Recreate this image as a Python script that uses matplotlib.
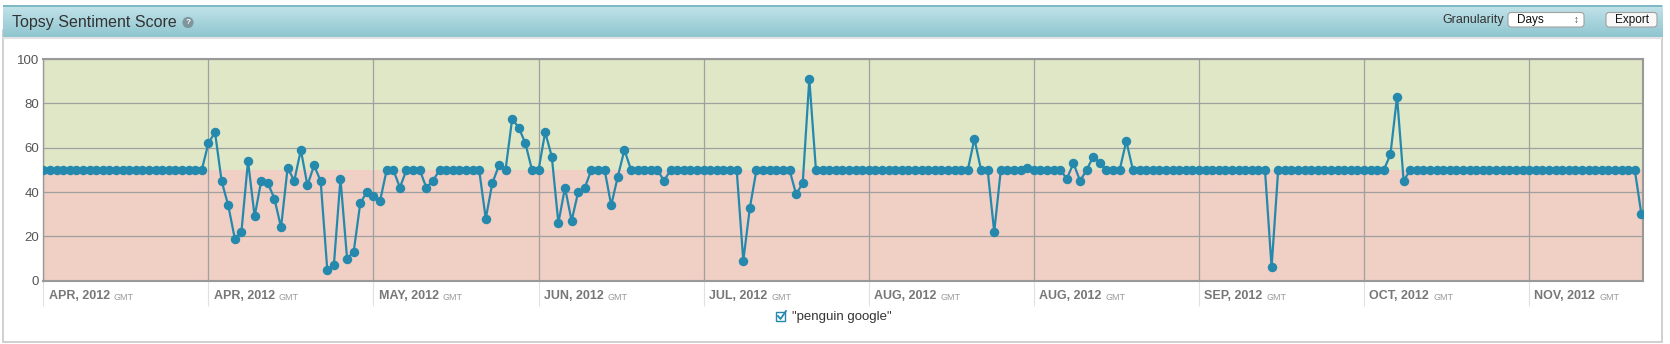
import numpy as np
import matplotlib
matplotlib.use('Agg')
import matplotlib.pyplot as plt
from matplotlib.patches import Rectangle, FancyBboxPatch
from matplotlib.transforms import Affine2D

# datos: puntaje diario (243 dias)
puntaje = [
    50, 50, 50, 50, 50, 50, 50, 50, 50, 50, 50, 50, 50, 50, 50, 50, 50, 50, 50, 50, 50, 50, 50, 50, 50,
    62, 67, 45, 34, 19, 22, 54, 29, 45, 44, 37, 24, 51, 45, 59, 43, 52, 45, 5, 7, 46, 10, 13, 35, 40,
    38, 36, 50, 50, 42, 50, 50, 50, 42, 45, 50, 50, 50, 50, 50, 50, 50, 28, 44, 52, 50, 73, 69, 62, 50,
    50, 67, 56, 26, 42, 27, 40, 42, 50, 50, 50, 34, 47, 59, 50, 50, 50, 50, 50, 45, 50, 50, 50, 50, 50,
    50, 50, 50, 50, 50, 50, 9, 33, 50, 50, 50, 50, 50, 50, 39, 44, 91, 50, 50, 50, 50, 50, 50, 50, 50,
    50, 50, 50, 50, 50, 50, 50, 50, 50, 50, 50, 50, 50, 50, 50, 50, 64, 50, 50, 22, 50, 50, 50, 50, 51,
    50, 50, 50, 50, 50, 46, 53, 45, 50, 56, 53, 50, 50, 50, 63, 50, 50, 50, 50, 50, 50, 50, 50, 50, 50,
    50, 50, 50, 50, 50, 50, 50, 50, 50, 50, 50, 6, 50, 50, 50, 50, 50, 50, 50, 50, 50, 50, 50, 50, 50,
    50, 50, 50, 50, 57, 83, 45, 50, 50, 50, 50, 50, 50, 50, 50, 50, 50, 50, 50, 50, 50, 50, 50, 50, 50,
    50, 50, 50, 50, 50, 50, 50, 50, 50, 50, 50, 50, 50, 50, 50, 50, 50, 30,
]
dias = np.arange(len(puntaje))

# etiquetas del eje x (una cada 25 dias)
pos_ticks = [0, 25, 50, 75, 100, 125, 150, 175, 200, 225]
etiquetas = ['APR, 2012', 'APR, 2012', 'MAY, 2012', 'JUN, 2012', 'JUL, 2012',
             'AUG, 2012', 'AUG, 2012', 'SEP, 2012', 'OCT, 2012', 'NOV, 2012']
y_ticks = [0, 20, 40, 60, 80, 100]

titulo = 'Topsy Sentiment Score'
serie = '"penguin google"'

plt.rcParams['font.family'] = ['Liberation Sans', 'DejaVu Sans']

W, H = 1670, 344
fig = plt.figure(figsize=(W / 100, H / 100), dpi=100)
# transformacion en pixeles con origen arriba a la izquierda
T = Affine2D().scale(1 / W, -1 / H).translate(0, 1) + fig.transFigure

# panel blanco
fig.patches.append(Rectangle((3, 30), 1659, 312, transform=T, fc='white',
                             ec='#c8c8c8', lw=1.2, zorder=-5))

# barra de titulo con degradado
ax_h = fig.add_axes([3 / W, 1 - 37 / H, 1659 / W, 32 / H])
ax_h.set_zorder(1)
grad = np.linspace(0, 1, 50).reshape(-1, 1)
c1 = np.array(matplotlib.colors.to_rgb('#c3e4ea'))
c2 = np.array(matplotlib.colors.to_rgb('#8fc5cf'))
img = c1[None, None, :] * (1 - grad[:, :, None]) + c2[None, None, :] * grad[:, :, None]
ax_h.imshow(img, aspect='auto', extent=[0, 1, 0, 1])
ax_h.set_axis_off()
fig.patches.append(Rectangle((3, 5), 1659, 1.5, transform=T, fc='#7fb9c4', ec='none', zorder=5))
fig.patches.append(Rectangle((3, 37), 1659, 1.5, transform=T, fc='#e2e2e2', ec='none', zorder=5))

fig.text(12, 22, titulo, transform=T, fontsize=11.5, color='#333333', va='center', ha='left', zorder=6)
fig.text(188, 22.5, '?', transform=T, fontsize=6, color='white', weight='bold', ha='center', va='center',
         zorder=6, bbox=dict(boxstyle='circle,pad=0.25', fc='#7d959b', ec='none'))

# controles de la derecha
fig.text(1504, 20, 'Granularity', transform=T, fontsize=9, color='#333333', ha='right', va='center', zorder=6)
fig.patches.append(FancyBboxPatch((1508, 12.5), 76, 14.5, boxstyle='round,pad=0,rounding_size=3',
                                  transform=T, fc='white', ec='#a0a0a0', lw=0.8, zorder=6))
fig.text(1517, 20, 'Days', transform=T, fontsize=8.5, color='#111111', ha='left', va='center', zorder=7)
fig.text(1576, 20, '\u2195', transform=T, fontsize=7, color='#444444', ha='center', va='center', zorder=7)
fig.patches.append(FancyBboxPatch((1606, 12.5), 51, 14.5, boxstyle='round,pad=0,rounding_size=3',
                                  transform=T, fc='#f8f8f8', ec='#a0a0a0', lw=0.8, zorder=6))
fig.text(1631.5, 20, 'Export', transform=T, fontsize=8.5, color='#111111', ha='center', va='center', zorder=7)

# grafico
ax = fig.add_axes([43.3 / W, 1 - 280.7 / H, (1642.7 - 43.3) / W, (280.7 - 59) / H])
ax.set_zorder(2)
ax.axhspan(50, 100, color='#e0e7c6', zorder=0, lw=0)
ax.axhspan(0, 50, color='#f0cfc4', zorder=0, lw=0)
ax.plot(dias, puntaje, '-o', color='#2589ad', lw=1.6, ms=5.8, zorder=3)
ax.set_xlim(0, 242.2)
ax.set_ylim(0, 100)
ax.set_yticks(y_ticks)
ax.set_xticks(pos_ticks)
ax.set_xticklabels([])
ax.grid(True, color='#a0a0a0', lw=0.9, zorder=1)
ax.set_axisbelow(True)
ax.tick_params(axis='y', length=0, pad=3, labelsize=9.5, labelcolor='#555555')
ax.tick_params(axis='x', length=18, width=0.8, color='#e0e0e0', direction='out')
for s in ax.spines.values():
    s.set_color('#999999')
    s.set_linewidth(1.5)
ax.spines['left'].set_linewidth(1.0)

# etiquetas de fecha con "GMT" chico
for p, e in zip(pos_ticks, etiquetas):
    t = ax.text(p + 0.8, -0.07, e, transform=ax.get_xaxis_transform(), fontsize=9,
                weight='bold', color='#777777', ha='left', va='center')
    ax.annotate('GMT', xy=(1, 0.5), xycoords=t, xytext=(3, -1), textcoords='offset points',
                fontsize=6.5, color='#999999', ha='left', va='center')

# leyenda
fig.patches.append(Rectangle((776, 312), 9, 9, transform=T, fc='white', ec='#2589ad', lw=1.0, zorder=6))
fig.lines.append(plt.Line2D([778, 780.5, 786], [316, 319, 311], transform=T, color='#2589ad', lw=1.3, zorder=7))
fig.text(792, 317, serie, transform=T, fontsize=9.5, color='#333333', ha='left', va='center')

fig.savefig('out.png', dpi=100)
